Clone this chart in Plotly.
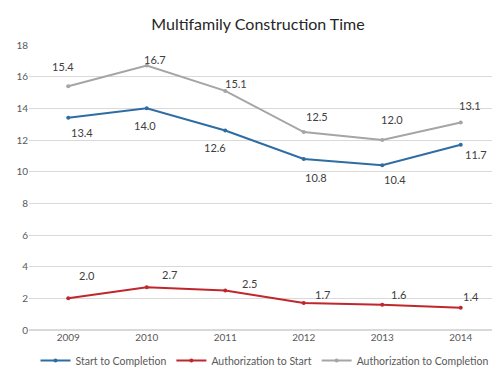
import plotly.graph_objects as go

years = [2009, 2010, 2011, 2012, 2013, 2014]
start_to_completion = [13.4, 14.0, 12.6, 10.8, 10.4, 11.7]
authorization_to_start = [2.0, 2.7, 2.5, 1.7, 1.6, 1.4]
authorization_to_completion = [15.4, 16.7, 15.1, 12.5, 12.0, 13.1]
y_ticks = [0, 2, 4, 6, 8, 10, 12, 14, 16, 18]

series = [
    ("Start to Completion", start_to_completion, "#2E6DA4",
     [(14, -15), (-2, -17), (-10, -17), (12, -18), (13, -14), (15, -10)]),
    ("Authorization to Start", authorization_to_start, "#C0272D",
     [(19, 23), (23, 13), (24, 7), (19, 9), (16, 10), (10, 11)]),
    ("Authorization to Completion", authorization_to_completion, "#A5A5A5",
     [(-5, 20), (8, 6), (11, 7), (13, 16), (10, 21), (9, 17)]),
]

FONT = "Lato, Liberation Sans, sans-serif"
fig = go.Figure()
annotations = []
for name, vals, color, offs in series:
    fig.add_trace(go.Scatter(
        x=years, y=vals, name=name, mode="lines+markers",
        line=dict(color=color, width=2),
        marker=dict(color=color, size=4),
    ))
    for x, v, (dx, dy) in zip(years, vals, offs):
        annotations.append(dict(
            x=x, y=v, text=f"{v:.1f}", showarrow=False,
            xshift=dx, yshift=dy,
            font=dict(size=11, color="#404040", family=FONT),
        ))

fig.update_layout(
    width=500, height=375,
    margin=dict(l=21, r=8, t=37, b=44),
    paper_bgcolor="white", plot_bgcolor="white",
    font=dict(family=FONT, color="#595959"),
    title=dict(text="Multifamily Construction Time", x=0.5, xanchor="center",
               y=0.955, yanchor="middle",
               font=dict(size=16, color="#262626")),
    xaxis=dict(type="linear", range=[2008.5, 2014.5], tickvals=years,
               ticktext=[str(y) for y in years], showgrid=False, showline=False,
               zeroline=False, ticks="", tickfont=dict(size=10, color="#595959")),
    yaxis=dict(range=[0, 18], tickvals=y_ticks, showgrid=True, gridcolor="#D9D9D9",
               gridwidth=1, zeroline=True, zerolinecolor="#D9D9D9", showline=False,
               ticks="", tickfont=dict(size=10, color="#595959")),
    legend=dict(orientation="h", x=0.5, xanchor="center", y=-0.107, yanchor="middle",
                font=dict(size=10.5, color="#595959"), itemwidth=30, tracegroupgap=0),
    annotations=annotations,
    showlegend=True,
)

fig.write_html("out.html")
